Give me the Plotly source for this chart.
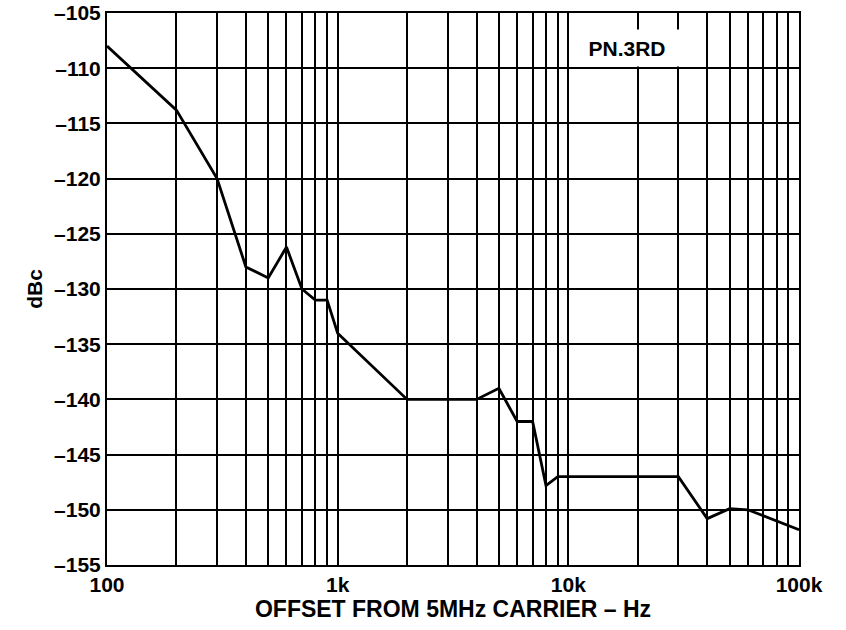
import plotly.graph_objects as go

offset_hz = [100, 200, 300, 400, 500, 600, 700, 800, 900, 1000, 2000, 4000, 5000,
             6000, 7000, 8000, 9000, 30000, 40000, 50000, 60000, 100000]
dbc = [-108, -113.8, -120, -128, -129, -126.2, -130, -131, -131, -134, -140, -140, -139,
       -142, -142, -147.8, -147, -147, -150.8, -149.9, -150, -151.8]

decade_labels = {100: "100", 1000: "1k", 10000: "10k", 100000: "100k"}
x_grid = [m * 10 ** e for e in (2, 3, 4) for m in range(1, 10)] + [100000]
x_text = [decade_labels.get(v, "") for v in x_grid]
y_ticks = list(range(-155, -104, 5))
y_text = ["\u2013" + str(abs(v)) for v in y_ticks]

FONT = "Liberation Sans, Arial, sans-serif"
TICKFONT = dict(family=FONT, size=21, color="black", weight="bold")

fig = go.Figure()
fig.add_trace(go.Scatter(x=offset_hz, y=dbc, mode="lines",
                         line=dict(color="black", width=2.8), showlegend=False))

fig.add_annotation(x=0.752, y=0.937, xref="paper", yref="paper",
                   xanchor="center", yanchor="middle",
                   text="PN.3RD", showarrow=False,
                   font=dict(family=FONT, size=21, color="black", weight="bold"),
                   bgcolor="white", width=112, height=34)

fig.update_xaxes(type="log", range=[2, 5], tickvals=x_grid, ticktext=x_text,
                 showgrid=True, gridcolor="black", gridwidth=2,
                 showline=True, linecolor="black", linewidth=2, mirror=True,
                 ticks="", tickfont=TICKFONT, automargin=False,
                 title=dict(text="OFFSET FROM 5MHz CARRIER \u2013 Hz",
                            font=dict(family=FONT, size=23, color="black", weight="bold"),
                            standoff=1),
                 zeroline=False)
fig.update_yaxes(range=[-155, -105], tickvals=y_ticks, ticktext=y_text,
                 showgrid=True, gridcolor="black", gridwidth=2,
                 showline=True, linecolor="black", linewidth=2, mirror=True,
                 ticks="", tickfont=TICKFONT, automargin=False,
                 title=dict(text="dBc",
                            font=dict(family=FONT, size=21, color="black", weight="bold"),
                            standoff=6),
                 zeroline=False)
fig.update_layout(width=846, height=630, plot_bgcolor="white", paper_bgcolor="white",
                  margin=dict(l=107, r=47, t=13, b=65),
                  font=dict(family=FONT, size=20, color="black"))
fig.write_html("out.html")
